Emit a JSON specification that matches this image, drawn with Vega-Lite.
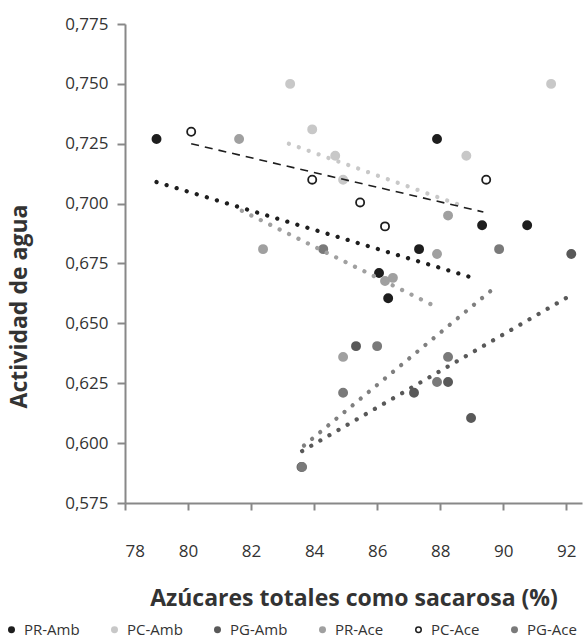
{
  "$schema": "https://vega.github.io/schema/vega-lite/v6.json",
  "width": 457,
  "height": 479,
  "autosize": "none",
  "padding": {"left": 125, "top": 24, "right": 3, "bottom": 139},
  "background": "white",
  "config": {
    "view": {"stroke": null},
    "font": "Open Sans",
    "axis": {
      "grid": false,
      "domainColor": "#888888",
      "domainWidth": 2,
      "tickColor": "#888888",
      "tickWidth": 2,
      "labelColor": "#333333",
      "labelFont": "Open Sans",
      "labelFontSize": 17,
      "titleFont": "Open Sans",
      "titleColor": "#333333",
      "titleFontWeight": "bold"
    }
  },
  "datasets": {
    "pts": [
      {"s": "PR-Amb", "x": 79.0, "y": 0.727},
      {"s": "PR-Amb", "x": 86.06, "y": 0.671},
      {"s": "PR-Amb", "x": 86.35, "y": 0.6605},
      {"s": "PR-Amb", "x": 87.33, "y": 0.681},
      {"s": "PR-Amb", "x": 87.9, "y": 0.727},
      {"s": "PR-Amb", "x": 89.33, "y": 0.691},
      {"s": "PR-Amb", "x": 90.76, "y": 0.691},
      {"s": "PC-Amb", "x": 83.24, "y": 0.75},
      {"s": "PC-Amb", "x": 83.94, "y": 0.731},
      {"s": "PC-Amb", "x": 84.67, "y": 0.72},
      {"s": "PC-Amb", "x": 84.92, "y": 0.71},
      {"s": "PC-Amb", "x": 88.83, "y": 0.72},
      {"s": "PC-Amb", "x": 91.52, "y": 0.75},
      {"s": "PG-Amb", "x": 83.6, "y": 0.59},
      {"s": "PG-Amb", "x": 85.33, "y": 0.6405},
      {"s": "PG-Amb", "x": 87.17, "y": 0.621},
      {"s": "PG-Amb", "x": 88.25, "y": 0.6255},
      {"s": "PG-Amb", "x": 88.98, "y": 0.6105},
      {"s": "PG-Amb", "x": 92.16, "y": 0.679},
      {"s": "PR-Ace", "x": 81.62, "y": 0.727},
      {"s": "PR-Ace", "x": 82.38, "y": 0.681},
      {"s": "PR-Ace", "x": 84.92, "y": 0.636},
      {"s": "PR-Ace", "x": 86.25, "y": 0.6677},
      {"s": "PR-Ace", "x": 86.5, "y": 0.669},
      {"s": "PR-Ace", "x": 87.9, "y": 0.679},
      {"s": "PR-Ace", "x": 88.25, "y": 0.695},
      {"s": "PC-Ace", "x": 80.1, "y": 0.73},
      {"s": "PC-Ace", "x": 83.94, "y": 0.71},
      {"s": "PC-Ace", "x": 85.46, "y": 0.7005},
      {"s": "PC-Ace", "x": 86.25, "y": 0.6905},
      {"s": "PC-Ace", "x": 89.46, "y": 0.71},
      {"s": "PG-Ace", "x": 83.62, "y": 0.59},
      {"s": "PG-Ace", "x": 84.29, "y": 0.681},
      {"s": "PG-Ace", "x": 84.92, "y": 0.621},
      {"s": "PG-Ace", "x": 86.0, "y": 0.6405},
      {"s": "PG-Ace", "x": 87.9, "y": 0.6255},
      {"s": "PG-Ace", "x": 88.25, "y": 0.636},
      {"s": "PG-Ace", "x": 89.87, "y": 0.681}
    ],
    "trend": [
      {"t": "PR-Amb", "x": 79.0, "y": 0.709},
      {"t": "PR-Amb", "x": 89.17, "y": 0.6685},
      {"t": "PC-Amb", "x": 83.2, "y": 0.725},
      {"t": "PC-Amb", "x": 88.54, "y": 0.6998},
      {"t": "PG-Amb", "x": 83.62, "y": 0.5967},
      {"t": "PG-Amb", "x": 92.22, "y": 0.6623},
      {"t": "PR-Ace", "x": 81.71, "y": 0.697},
      {"t": "PR-Ace", "x": 87.75, "y": 0.6577},
      {"t": "PG-Ace", "x": 83.68, "y": 0.599},
      {"t": "PG-Ace", "x": 89.68, "y": 0.6644},
      {"t": "PC-Ace", "x": 80.1, "y": 0.725},
      {"t": "PC-Ace", "x": 89.37, "y": 0.6965}
    ]
  },
  "encoding": {
    "x": {
      "field": "x",
      "type": "quantitative",
      "scale": {"domain": [78, 92.5], "nice": false, "zero": false},
      "axis": {
        "values": [78, 80, 82, 84, 86, 88, 90, 92],
        "tickSize": 7,
        "labelBaseline": "alphabetic",
        "labelPadding": 46,
        "title": "Azúcares totales como sacarosa (%)",
        "titleFontSize": 23,
        "titleBaseline": "alphabetic",
        "titleY": 102
      }
    },
    "y": {
      "field": "y",
      "type": "quantitative",
      "scale": {"domain": [0.575, 0.775], "nice": false, "zero": false},
      "axis": {
        "values": [0.575, 0.6, 0.625, 0.65, 0.675, 0.7, 0.725, 0.75, 0.775],
        "labelExpr": "replace(format(datum.value, '.3f'), '.', ',')",
        "tickSize": 8,
        "labelPadding": 9,
        "title": "Actividad de agua",
        "titleFontSize": 23,
        "titleX": -106,
        "titleY": 282,
        "titleAngle": -90,
        "titleAlign": "center",
        "titleBaseline": "middle"
      }
    }
  },
  "layer": [
    {
      "data": {"name": "pts"},
      "mark": {"type": "point", "filled": false, "shape": "circle", "size": 66, "strokeWidth": 1.8, "opacity": 1},
      "encoding": {
        "fill": {
          "field": "s",
          "type": "nominal",
          "scale": {
            "domain": ["PR-Amb", "PC-Amb", "PG-Amb", "PR-Ace", "PC-Ace", "PG-Ace"],
            "range": ["#1e1e1e", "#c8c8c8", "#595959", "#a0a0a0", "#ffffff", "#7a7a7a"]
          },
          "legend": {
            "title": null,
            "orient": "none",
            "legendX": -121,
            "legendY": 598,
            "direction": "horizontal",
            "columns": 6,
            "columnPadding": 27,
            "symbolSize": 30,
            "symbolStrokeWidth": 1.5,
            "labelFontSize": 15,
            "labelColor": "#333333",
            "labelOffset": 5,
            "labelFont": "Open Sans"
          }
        },
        "stroke": {
          "field": "s",
          "type": "nominal",
          "scale": {
            "domain": ["PR-Amb", "PC-Amb", "PG-Amb", "PR-Ace", "PC-Ace", "PG-Ace"],
            "range": ["#1e1e1e", "#c8c8c8", "#595959", "#a0a0a0", "#1e1e1e", "#7a7a7a"]
          },
          "legend": {
            "title": null,
            "orient": "none",
            "legendX": -121,
            "legendY": 598,
            "direction": "horizontal",
            "columns": 6,
            "columnPadding": 27,
            "symbolSize": 30,
            "symbolStrokeWidth": 1.5,
            "labelFontSize": 15,
            "labelColor": "#333333",
            "labelOffset": 5,
            "labelFont": "Open Sans"
          }
        },
        "fillOpacity": {"value": 1},
        "strokeOpacity": {"value": 1}
      }
    },
    {
      "data": {"name": "trend"},
      "transform": [{"filter": "datum.t !== 'PC-Ace'"}],
      "mark": {"type": "line", "strokeWidth": 4.3, "strokeDash": [0.01, 10.5], "strokeCap": "round"},
      "encoding": {
        "color": {
          "field": "t",
          "type": "nominal",
          "scale": {
            "domain": ["PR-Amb", "PC-Amb", "PG-Amb", "PR-Ace", "PG-Ace"],
            "range": ["#1e1e1e", "#c8c8c8", "#595959", "#a0a0a0", "#7f7f7f"]
          },
          "legend": null
        },
        "detail": {"field": "t"}
      }
    },
    {
      "data": {"name": "trend"},
      "transform": [{"filter": "datum.t === 'PC-Ace'"}],
      "mark": {"type": "line", "strokeWidth": 1.6, "strokeDash": [8, 6], "color": "#1e1e1e"},
      "encoding": {}
    }
  ]
}
